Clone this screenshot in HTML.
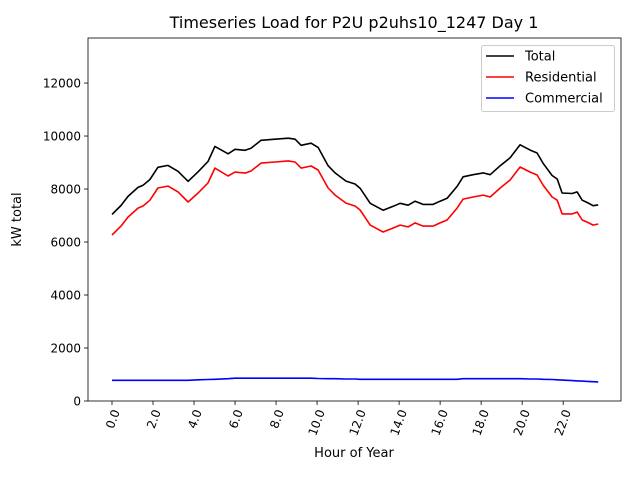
<!DOCTYPE html>
<html><head><meta charset="utf-8"><style>
html,body{margin:0;padding:0;background:#fff;}
svg{display:block;font-family:"DejaVu Sans","Liberation Sans",sans-serif;}
</style></head><body>
<svg id="chart" width="640" height="480" xmlns="http://www.w3.org/2000/svg"></svg>
<script>
const hours=[0,0.44,0.78,1.27,1.51,1.85,2.24,2.73,3.22,3.71,4.2,4.68,5.02,5.66,6.0,6.49,6.78,7.27,7.95,8.59,8.93,9.22,9.71,10.05,10.54,10.88,11.41,11.85,12.1,12.59,13.22,13.71,14.05,14.44,14.78,15.17,15.66,16.0,16.34,16.83,17.12,17.61,18.1,18.44,18.93,19.41,19.9,20.39,20.73,21.02,21.46,21.71,21.95,22.44,22.68,22.93,23.17,23.46,23.71];
const residential=[6264,6600,6940,7280,7360,7580,8040,8110,7890,7510,7850,8230,8790,8490,8640,8600,8680,8980,9020,9060,9020,8790,8870,8720,8040,7770,7470,7360,7210,6640,6380,6530,6640,6570,6720,6600,6600,6720,6830,7280,7620,7700,7770,7700,8040,8340,8830,8640,8530,8150,7700,7580,7060,7060,7130,6830,6750,6640,6680];
const commercial=[780,780,780,780,780,780,780,780,780,780,800,810,820,840,860,860,860,860,860,860,860,860,860,850,840,840,830,830,820,820,820,820,820,820,820,820,820,820,820,820,840,840,840,840,840,840,840,830,830,820,810,800,790,770,760,750,740,730,720];
const total=[7044,7380,7720,8060,8140,8360,8820,8890,8670,8290,8650,9040,9610,9330,9500,9460,9540,9840,9880,9920,9880,9650,9730,9570,8880,8610,8300,8190,8030,7460,7200,7350,7460,7390,7540,7420,7420,7540,7650,8100,8460,8540,8610,8540,8880,9180,9670,9470,9360,8970,8510,8380,7850,7830,7890,7580,7490,7370,7400];
const xTicks=[0,2,4,6,8,10,12,14,16,18,20,22];
const xTickLabels=["0.0","2.0","4.0","6.0","8.0","10.0","12.0","14.0","16.0","18.0","20.0","22.0"];
const yTicks=[0,2000,4000,6000,8000,10000,12000];
const yTickLabels=["0","2000","4000","6000","8000","10000","12000"];
const seriesNames=["Total","Residential","Commercial"];
const seriesColors=["#000000","#ff0000","#0000ff"];

const L=88,R=621,T=38,B=401;
const xMin=-1.17,xMax=24.82,yMin=0,yMax=13700;
const sx=v=>L+(v-xMin)/(xMax-xMin)*(R-L);
const sy=v=>B-(v-yMin)/(yMax-yMin)*(B-T);
const NS="http://www.w3.org/2000/svg";
const svg=document.getElementById('chart');
function mk(tag,attrs,parent){const e=document.createElementNS(NS,tag);for(const k in attrs)e.setAttribute(k,attrs[k]);(parent||svg).appendChild(e);return e;}

const title=mk('text',{x:354,y:28,'text-anchor':'middle','font-size':16,fill:'#000'});


title.textContent='Timeseries Load for P2U p2uhs10_1247  Day 1';

const xg=mk('g',{});


xTicks.forEach((t,i)=>{
  const x=sx(t);
  mk('line',{x1:x,x2:x,y1:B,y2:B+4,stroke:'#000','stroke-width':0.8},xg);
  const tx=mk('text',{x:0,y:0,'font-size':12,'text-anchor':'end',transform:`translate(${x+4},${B+9}) rotate(-70)`,dy:'0.35em',fill:'#000'},xg);
  
  
  tx.textContent=xTickLabels[i];
});
const xl=mk('text',{x:354,y:457,'text-anchor':'middle','font-size':13,fill:'#000'});


xl.textContent='Hour of Year';

const yg=mk('g',{});


yTicks.forEach((t,i)=>{
  const y=sy(t);
  mk('line',{x1:L-4,x2:L,y1:y,y2:y,stroke:'#000','stroke-width':0.8},yg);
  const tx=mk('text',{x:L-7,y:y+4.5,'text-anchor':'end','font-size':12,fill:'#000'},yg);
  
  
  tx.textContent=yTickLabels[i];
});
const yl=mk('text',{x:0,y:0,'text-anchor':'middle','font-size':13,transform:`translate(21,${(T+B)/2}) rotate(-90)`,fill:'#000'});


yl.textContent='kW total';

[total,residential,commercial].forEach((arr,si)=>{
  const d=arr.map((v,i)=>(i?'L':'M')+sx(hours[i]).toFixed(1)+','+sy(v).toFixed(1)).join(' ');
  const p=mk('path',{d:d,fill:'none',stroke:seriesColors[si],'stroke-width':1.6,'stroke-linejoin':'round'});
  
  
});

const frame=mk('rect',{x:L,y:T,width:R-L,height:B-T,fill:'none',stroke:'#000','stroke-width':0.8});



const lg=mk('g',{});


mk('rect',{x:481.5,y:45.5,width:133,height:66,rx:2,fill:'#fff','fill-opacity':0.8,stroke:'#ccc','stroke-width':1},lg);
seriesNames.forEach((n,i)=>{
  const y=56+i*21;
  const e=mk('g',{},lg);
  
  
  mk('line',{x1:486,x2:514,y1:y,y2:y,stroke:seriesColors[i],'stroke-width':1.6},e);
  const t=mk('text',{x:525,y:y+4.5,'font-size':13,fill:'#000'},e);
  t.textContent=n;
});
</script>
</body></html>
